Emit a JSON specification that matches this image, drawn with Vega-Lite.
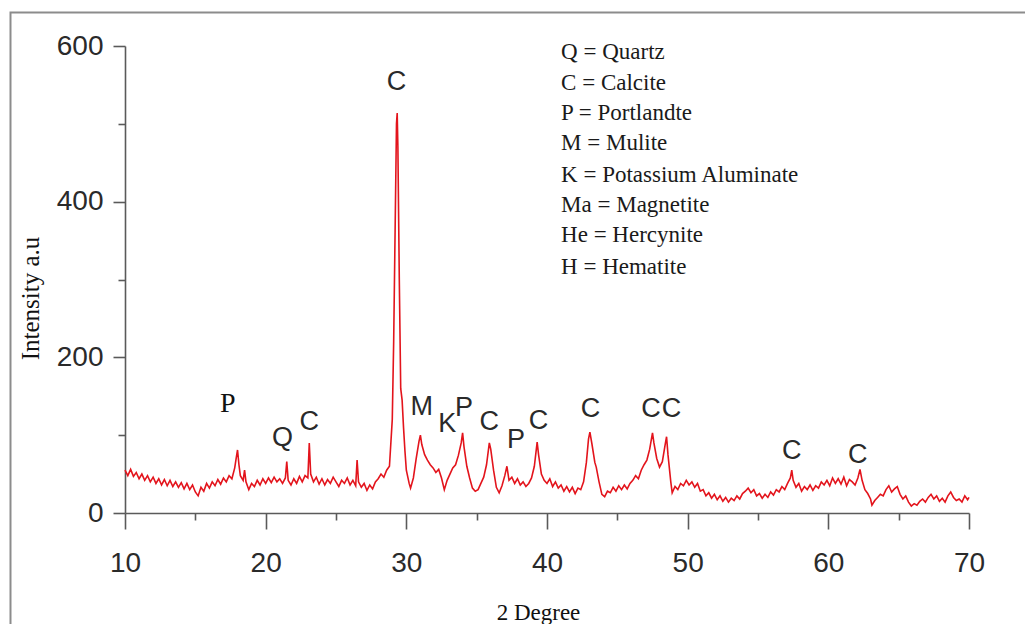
{
  "$schema": "https://vega.github.io/schema/vega-lite/v6.json",
  "width": 844,
  "height": 467,
  "autosize": {"type": "none"},
  "padding": {"left": 125, "top": 46, "right": 56, "bottom": 111},
  "background": "white",
  "config": {"view": {"stroke": null}},
  "datasets": {
    "frame": [{"x": 1.86, "x2": 80, "y": -250, "y2": 643}],
    "xrd": [
      {"x":10.0,"y":55},{"x":10.2,"y":48},{"x":10.4,"y":56},{"x":10.6,"y":47},{"x":10.8,"y":52},{"x":11.0,"y":44},{"x":11.2,"y":50},{"x":11.4,"y":42},{"x":11.6,"y":48},{"x":11.8,"y":40},
      {"x":12.0,"y":46},{"x":12.2,"y":38},{"x":12.4,"y":44},{"x":12.6,"y":36},{"x":12.8,"y":43},{"x":13.0,"y":35},{"x":13.2,"y":42},{"x":13.4,"y":34},{"x":13.6,"y":40},{"x":13.8,"y":33},
      {"x":14.0,"y":39},{"x":14.2,"y":31},{"x":14.4,"y":38},{"x":14.6,"y":30},{"x":14.8,"y":36},{"x":15.0,"y":27},{"x":15.2,"y":22},{"x":15.4,"y":33},{"x":15.6,"y":28},{"x":15.8,"y":38},
      {"x":16.0,"y":32},{"x":16.2,"y":40},{"x":16.4,"y":35},{"x":16.6,"y":43},{"x":16.8,"y":37},{"x":17.0,"y":45},{"x":17.2,"y":40},{"x":17.4,"y":48},{"x":17.6,"y":44},{"x":17.8,"y":58},
      {"x":17.9,"y":70},{"x":18.0,"y":81},{"x":18.1,"y":62},{"x":18.2,"y":48},{"x":18.4,"y":42},{"x":18.5,"y":55},{"x":18.6,"y":40},{"x":18.8,"y":30},{"x":19.0,"y":38},{"x":19.2,"y":34},
      {"x":19.4,"y":42},{"x":19.6,"y":36},{"x":19.8,"y":44},{"x":20.0,"y":38},{"x":20.2,"y":45},{"x":20.4,"y":39},{"x":20.6,"y":46},{"x":20.8,"y":40},{"x":21.0,"y":44},{"x":21.2,"y":38},
      {"x":21.4,"y":45},{"x":21.5,"y":66},{"x":21.6,"y":42},{"x":21.8,"y":36},{"x":22.0,"y":44},{"x":22.2,"y":38},{"x":22.4,"y":47},{"x":22.6,"y":40},{"x":22.8,"y":48},{"x":23.0,"y":45},
      {"x":23.1,"y":90},{"x":23.2,"y":50},{"x":23.4,"y":40},{"x":23.6,"y":46},{"x":23.8,"y":37},{"x":24.0,"y":44},{"x":24.2,"y":36},{"x":24.4,"y":43},{"x":24.6,"y":38},{"x":24.8,"y":46},
      {"x":25.0,"y":40},{"x":25.2,"y":34},{"x":25.4,"y":42},{"x":25.6,"y":38},{"x":25.8,"y":45},{"x":26.0,"y":36},{"x":26.2,"y":42},{"x":26.4,"y":35},{"x":26.5,"y":68},{"x":26.6,"y":40},
      {"x":26.8,"y":33},{"x":27.0,"y":38},{"x":27.2,"y":29},{"x":27.4,"y":36},{"x":27.6,"y":31},{"x":27.8,"y":40},{"x":28.0,"y":44},{"x":28.2,"y":50},{"x":28.4,"y":46},{"x":28.6,"y":55},
      {"x":28.8,"y":60},{"x":29.0,"y":120},{"x":29.1,"y":220},{"x":29.2,"y":360},{"x":29.3,"y":500},{"x":29.35,"y":514},{"x":29.4,"y":470},{"x":29.5,"y":300},{"x":29.6,"y":160},{"x":29.7,"y":145},
      {"x":29.8,"y":110},{"x":29.9,"y":80},{"x":30.0,"y":55},{"x":30.2,"y":38},{"x":30.3,"y":32},{"x":30.5,"y":45},{"x":30.7,"y":70},{"x":30.9,"y":92},{"x":31.0,"y":100},{"x":31.1,"y":88},
      {"x":31.3,"y":75},{"x":31.5,"y":68},{"x":31.7,"y":62},{"x":31.9,"y":58},{"x":32.1,"y":52},{"x":32.3,"y":56},{"x":32.5,"y":45},{"x":32.7,"y":30},{"x":32.9,"y":42},{"x":33.1,"y":50},
      {"x":33.3,"y":58},{"x":33.5,"y":62},{"x":33.7,"y":74},{"x":33.9,"y":90},{"x":34.0,"y":103},{"x":34.1,"y":85},{"x":34.3,"y":60},{"x":34.5,"y":45},{"x":34.7,"y":32},{"x":34.9,"y":28},
      {"x":35.1,"y":30},{"x":35.3,"y":38},{"x":35.5,"y":46},{"x":35.7,"y":62},{"x":35.9,"y":90},{"x":36.0,"y":82},{"x":36.2,"y":55},{"x":36.4,"y":33},{"x":36.6,"y":26},{"x":36.8,"y":35},
      {"x":37.0,"y":48},{"x":37.15,"y":60},{"x":37.3,"y":42},{"x":37.5,"y":46},{"x":37.7,"y":38},{"x":37.9,"y":44},{"x":38.1,"y":36},{"x":38.3,"y":40},{"x":38.5,"y":34},{"x":38.7,"y":38},
      {"x":38.9,"y":45},{"x":39.1,"y":60},{"x":39.3,"y":91},{"x":39.4,"y":75},{"x":39.6,"y":50},{"x":39.8,"y":42},{"x":40.0,"y":38},{"x":40.2,"y":44},{"x":40.4,"y":34},{"x":40.6,"y":40},
      {"x":40.8,"y":32},{"x":41.0,"y":36},{"x":41.2,"y":28},{"x":41.4,"y":34},{"x":41.6,"y":27},{"x":41.8,"y":33},{"x":42.0,"y":25},{"x":42.2,"y":32},{"x":42.4,"y":30},{"x":42.6,"y":40},
      {"x":42.8,"y":65},{"x":42.95,"y":95},{"x":43.05,"y":104},{"x":43.2,"y":88},{"x":43.4,"y":65},{"x":43.5,"y":59},{"x":43.7,"y":40},{"x":43.9,"y":24},{"x":44.1,"y":21},{"x":44.3,"y":28},
      {"x":44.5,"y":26},{"x":44.7,"y":33},{"x":44.9,"y":28},{"x":45.1,"y":35},{"x":45.3,"y":30},{"x":45.5,"y":36},{"x":45.7,"y":31},{"x":45.9,"y":38},{"x":46.1,"y":42},{"x":46.3,"y":48},
      {"x":46.5,"y":44},{"x":46.7,"y":55},{"x":46.9,"y":62},{"x":47.1,"y":68},{"x":47.3,"y":82},{"x":47.5,"y":103},{"x":47.6,"y":90},{"x":47.8,"y":70},{"x":48.0,"y":59},{"x":48.2,"y":66},
      {"x":48.4,"y":88},{"x":48.5,"y":98},{"x":48.6,"y":75},{"x":48.8,"y":40},{"x":48.9,"y":26},{"x":49.1,"y":34},{"x":49.3,"y":30},{"x":49.5,"y":38},{"x":49.7,"y":35},{"x":49.9,"y":42},
      {"x":50.1,"y":36},{"x":50.3,"y":40},{"x":50.5,"y":33},{"x":50.7,"y":38},{"x":50.9,"y":28},{"x":51.1,"y":30},{"x":51.3,"y":22},{"x":51.5,"y":26},{"x":51.7,"y":19},{"x":51.9,"y":24},
      {"x":52.1,"y":17},{"x":52.3,"y":22},{"x":52.5,"y":15},{"x":52.7,"y":20},{"x":52.9,"y":14},{"x":53.1,"y":19},{"x":53.3,"y":16},{"x":53.5,"y":22},{"x":53.7,"y":18},{"x":53.9,"y":25},
      {"x":54.1,"y":28},{"x":54.3,"y":32},{"x":54.5,"y":26},{"x":54.7,"y":30},{"x":54.9,"y":22},{"x":55.1,"y":25},{"x":55.3,"y":19},{"x":55.5,"y":24},{"x":55.7,"y":20},{"x":55.9,"y":27},
      {"x":56.1,"y":23},{"x":56.3,"y":30},{"x":56.5,"y":27},{"x":56.7,"y":34},{"x":56.9,"y":30},{"x":57.1,"y":38},{"x":57.3,"y":45},{"x":57.4,"y":55},{"x":57.5,"y":42},{"x":57.7,"y":33},
      {"x":57.9,"y":38},{"x":58.1,"y":28},{"x":58.3,"y":34},{"x":58.5,"y":30},{"x":58.7,"y":36},{"x":58.9,"y":29},{"x":59.1,"y":35},{"x":59.3,"y":32},{"x":59.5,"y":40},{"x":59.7,"y":36},
      {"x":59.9,"y":42},{"x":60.1,"y":35},{"x":60.3,"y":45},{"x":60.5,"y":38},{"x":60.7,"y":44},{"x":60.9,"y":37},{"x":61.1,"y":46},{"x":61.3,"y":35},{"x":61.5,"y":43},{"x":61.7,"y":40},
      {"x":61.9,"y":36},{"x":62.1,"y":45},{"x":62.25,"y":56},{"x":62.4,"y":42},{"x":62.6,"y":30},{"x":62.8,"y":25},{"x":63.0,"y":18},{"x":63.1,"y":10},{"x":63.3,"y":16},{"x":63.5,"y":20},
      {"x":63.7,"y":24},{"x":63.9,"y":22},{"x":64.1,"y":30},{"x":64.3,"y":35},{"x":64.5,"y":27},{"x":64.7,"y":31},{"x":64.9,"y":34},{"x":65.1,"y":24},{"x":65.3,"y":18},{"x":65.5,"y":22},
      {"x":65.7,"y":14},{"x":65.9,"y":9},{"x":66.1,"y":12},{"x":66.3,"y":10},{"x":66.5,"y":15},{"x":66.7,"y":18},{"x":66.9,"y":14},{"x":67.1,"y":20},{"x":67.3,"y":24},{"x":67.5,"y":18},
      {"x":67.7,"y":22},{"x":67.9,"y":15},{"x":68.1,"y":19},{"x":68.3,"y":14},{"x":68.5,"y":22},{"x":68.7,"y":27},{"x":68.9,"y":20},{"x":69.1,"y":16},{"x":69.3,"y":18},{"x":69.5,"y":14},
      {"x":69.7,"y":22},{"x":69.9,"y":17},{"x":70.0,"y":20}
    ],
    "peaks": [
      {"x":21.2,"y":96,"t":"Q"},{"x":23.1,"y":117,"t":"C"},{"x":29.3,"y":554,"t":"C"},{"x":31.1,"y":136,"t":"M"},
      {"x":32.9,"y":114,"t":"K"},{"x":34.1,"y":135,"t":"P"},{"x":35.9,"y":117,"t":"C"},{"x":37.8,"y":94,"t":"P"},
      {"x":39.4,"y":118,"t":"C"},{"x":43.1,"y":134,"t":"C"},{"x":47.4,"y":134,"t":"C"},{"x":48.85,"y":134,"t":"C"},
      {"x":57.4,"y":80,"t":"C"},{"x":62.1,"y":75,"t":"C"}
    ],
    "serifPeaks": [{"x":17.3,"y":140,"t":"P"}],
    "legend": [
      {"x":41.0,"y":592,"t":"Q = Quartz"},{"x":41.0,"y":552.5,"t":"C = Calcite"},{"x":41.0,"y":514,"t":"P = Portlandte"},
      {"x":41.0,"y":475,"t":"M = Mulite"},{"x":41.0,"y":434,"t":"K = Potassium Aluminate"},{"x":41.0,"y":396,"t":"Ma = Magnetite"},
      {"x":41.0,"y":357,"t":"He = Hercynite"},{"x":41.0,"y":316,"t":"H = Hematite"}
    ]
  },
  "encoding": {
    "x": {
      "field": "x", "type": "quantitative",
      "scale": {"domain": [10, 70], "nice": false, "zero": false},
      "axis": {
        "title": "2 Degree",
        "values": [10, 15, 20, 25, 30, 35, 40, 45, 50, 55, 60, 65, 70],
        "labelExpr": "datum.value % 10 === 0 ? datum.label : ''",
        "grid": false,
        "domainColor": "#5a5a5a", "domainWidth": 1.6,
        "tickColor": "#5a5a5a", "tickWidth": 1.6,
        "tickSize": {"condition": {"test": "datum.value % 10 === 0", "value": 16}, "value": 7},
        "labelFont": "Liberation Sans", "labelFontSize": 28, "labelColor": "#2a2a2a",
        "labelPadding": 20, "labelFlush": false, "labelOverlap": false,
        "titleFont": "Liberation Serif", "titleFontSize": 23, "titleFontWeight": "normal", "titleColor": "#111111",
        "titleX": 413, "titleY": 99, "titleBaseline": "middle", "titleAlign": "center"
      }
    },
    "y": {
      "field": "y", "type": "quantitative",
      "scale": {"domain": [0, 600], "nice": false},
      "axis": {
        "title": "Intensity a.u",
        "values": [0, 100, 200, 300, 400, 500, 600],
        "labelExpr": "datum.value % 200 === 0 ? datum.label : ''",
        "grid": false,
        "domainColor": "#5a5a5a", "domainWidth": 1.6,
        "tickColor": "#5a5a5a", "tickWidth": 1.6,
        "tickSize": {"condition": {"test": "datum.value % 200 === 0", "value": 12}, "value": 7},
        "labelFont": "Liberation Sans", "labelFontSize": 28, "labelColor": "#2a2a2a",
        "labelPadding": 10, "labelOverlap": false, "labelFlush": false,
        "titleFont": "Liberation Serif", "titleFontSize": 25, "titleFontWeight": "normal", "titleColor": "#111111",
        "titleX": -95, "titleY": 252, "titleBaseline": "middle", "titleAlign": "center", "titleAngle": -90
      }
    }
  },
  "layer": [
    {
      "data": {"name": "frame"},
      "mark": {"type": "rect", "fillOpacity": 0, "stroke": "#8c8c8c", "strokeWidth": 2},
      "encoding": {"x2": {"field": "x2"}, "y2": {"field": "y2"}}
    },
    {
      "data": {"name": "xrd"},
      "mark": {"type": "line", "color": "#e3141c", "strokeWidth": 1.6, "interpolate": "linear"}
    },
    {
      "data": {"name": "peaks"},
      "mark": {"type": "text", "font": "Liberation Sans", "fontSize": 27, "color": "#2a2a2a", "align": "center", "baseline": "middle"},
      "encoding": {"text": {"field": "t"}}
    },
    {
      "data": {"name": "serifPeaks"},
      "mark": {"type": "text", "font": "Liberation Serif", "fontSize": 28, "color": "#111111", "align": "center", "baseline": "middle"},
      "encoding": {"text": {"field": "t"}}
    },
    {
      "data": {"name": "legend"},
      "mark": {"type": "text", "font": "Liberation Serif", "fontSize": 23, "color": "#1a1a1a", "align": "left", "baseline": "middle"},
      "encoding": {"text": {"field": "t"}}
    }
  ]
}
